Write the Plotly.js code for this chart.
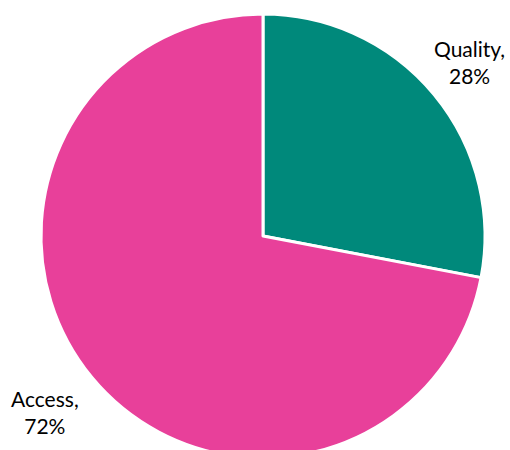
<!DOCTYPE html>
<html>
<head>
<meta charset="utf-8">
<script src="https://cdn.plot.ly/plotly-3.0.1.min.js"></script>
<style>html,body{margin:0;padding:0;overflow:hidden;background:#fff;}</style>
</head>
<body>
<div id="chart" style="width:510px;height:472px;"></div>
<script>
const categories = ["Quality", "Access"];
const values = [28, 72];
const colors = ["#00897B", "#E8409A"];

const total = values.reduce((a, b) => a + b, 0);
const labelPos = [{x: 0.964, y: 0.892}, {x: 0.009, y: 0.104}];
const annotations = categories.map((c, i) => ({
  xref: "paper", yref: "paper",
  x: labelPos[i].x, y: labelPos[i].y,
  xanchor: "center", yanchor: "middle",
  align: "center",
  showarrow: false,
  text: c + ",<br>" + Math.round(values[i] / total * 100) + "%",
  font: {family: "Lato, sans-serif", size: 21, color: "#000000"}
}));

Plotly.newPlot("chart", [{
  type: "pie",
  labels: categories,
  values: values,
  sort: false,
  direction: "clockwise",
  rotation: 0,
  marker: {colors: colors, line: {color: "#ffffff", width: 3}},
  textinfo: "none",
  hoverinfo: "none"
}], {
  width: 510,
  height: 472,
  margin: {l: 41, r: 25, t: 14, b: 14},
  showlegend: false,
  paper_bgcolor: "#ffffff",
  annotations: annotations
}, {displayModeBar: false, staticPlot: true});
</script>
</body>
</html>
